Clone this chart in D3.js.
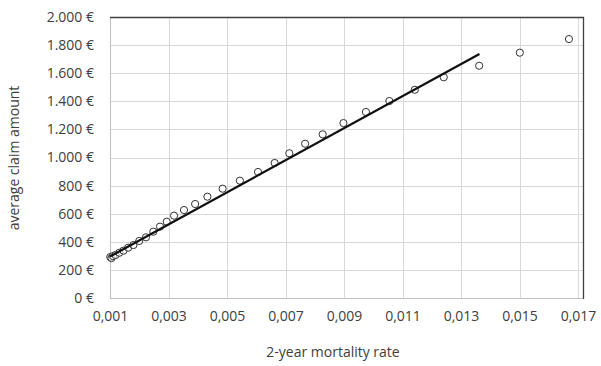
<!DOCTYPE html>
<html>
<head>
<meta charset="utf-8">
<script src="https://cdn.jsdelivr.net/npm/d3@7"></script>
<style>
  html, body { margin: 0; padding: 0; background: #fff; }
  svg { display: block; font-family: "Open Sans", sans-serif; }
</style>
</head>
<body>
<svg id="chart" width="601" height="366"></svg>
<script>
// Observed 2-year mortality rate vs. average claim amount (EUR)
const mortalityRate = [
  0.00101, 0.00105, 0.00110, 0.00119, 0.00132, 0.00146, 0.00162, 0.00180,
  0.00200, 0.00223, 0.00248, 0.00271, 0.00294, 0.00319, 0.00353, 0.00391,
  0.00433, 0.00485, 0.00544, 0.00606, 0.00663, 0.00713, 0.00767, 0.00827,
  0.00898, 0.00975, 0.01055, 0.01142, 0.01241, 0.01362, 0.01501, 0.01669
];
const claimAmount = [
  292, 284, 298, 306, 322, 337, 358, 377,
  406, 432, 472, 508, 543, 586, 626, 669,
  721, 778, 835, 897, 961, 1030, 1098, 1165,
  1245, 1324, 1402, 1482, 1571, 1653, 1746, 1843
];
// Linear trend line endpoints
const trendX = [0.0010, 0.01363];
const trendY = [295, 1737];

const xTicks = [0.001, 0.003, 0.005, 0.007, 0.009, 0.011, 0.013, 0.015, 0.017];
const yTicks = [0, 200, 400, 600, 800, 1000, 1200, 1400, 1600, 1800, 2000];

const svg = d3.select("#chart");
const plotL = 110, plotR = 583, plotT = 17, plotB = 298;
const fontSize = 14, textColor = "#404040";

const x = d3.scaleLinear().domain([0.001, 0.01717]).range([plotL, plotR]);
const y = d3.scaleLinear().domain([0, 2000]).range([plotB, plotT]);

const fmtX = d => d.toFixed(3).replace(".", ",");
const fmtY = d => d3.format(",")(d).replace(/,/g, ".") + " €";

// Gridlines
svg.append("g").selectAll("line").data(yTicks).join("line")
  .attr("x1", plotL).attr("x2", plotR)
  .attr("y1", d => Math.round(y(d)) + 0.5).attr("y2", d => Math.round(y(d)) + 0.5)
  .attr("stroke", "#d9d9d9").attr("stroke-width", 1);
svg.append("g").selectAll("line").data(xTicks).join("line")
  .attr("x1", d => Math.round(x(d)) + 0.5).attr("x2", d => Math.round(x(d)) + 0.5)
  .attr("y1", plotT).attr("y2", plotB)
  .attr("stroke", "#d9d9d9").attr("stroke-width", 1);

// Plot frame
svg.append("line").attr("x1", plotL + 0.5).attr("x2", plotL + 0.5).attr("y1", plotT).attr("y2", plotB)
  .attr("stroke", "#bfbfbf");
svg.append("line").attr("x1", plotL).attr("x2", plotR).attr("y1", plotB + 0.5).attr("y2", plotB + 0.5)
  .attr("stroke", "#bfbfbf");
svg.append("line").attr("x1", plotL).attr("x2", plotR + 1).attr("y1", plotT + 0.5).attr("y2", plotT + 0.5)
  .attr("stroke", "#404040").attr("stroke-width", 1.3);
svg.append("line").attr("x1", plotR + 0.5).attr("x2", plotR + 0.5).attr("y1", plotT).attr("y2", plotB + 1)
  .attr("stroke", "#404040").attr("stroke-width", 1.3);

// Axes (labels only)
const yAxis = svg.append("g").attr("transform", `translate(${plotL},0)`)
  .call(d3.axisLeft(y).tickValues(yTicks).tickFormat(fmtY).tickSize(0).tickPadding(16));
const xAxis = svg.append("g").attr("transform", `translate(0,${plotB})`)
  .call(d3.axisBottom(x).tickValues(xTicks).tickFormat(fmtX).tickSize(0).tickPadding(13));
[yAxis, xAxis].forEach(a => {
  a.select(".domain").remove();
  a.selectAll("text").attr("font-size", fontSize).attr("fill", textColor)
    .attr("font-family", "'Open Sans', sans-serif");
});

// Data points
svg.append("g").selectAll("circle").data(mortalityRate).join("circle")
  .attr("cx", d => x(d)).attr("cy", (d, i) => y(claimAmount[i]))
  .attr("r", 3.6).attr("fill", "#fff").attr("fill-opacity", 0.6)
  .attr("stroke", "#333").attr("stroke-width", 1);

// Trend line
svg.append("line")
  .attr("x1", x(trendX[0])).attr("y1", y(trendY[0]))
  .attr("x2", x(trendX[1])).attr("y2", y(trendY[1]))
  .attr("stroke", "#111").attr("stroke-width", 2.2);

// Axis titles
svg.append("text").attr("x", 333).attr("y", 357).attr("text-anchor", "middle")
  .attr("font-size", fontSize).attr("fill", textColor).text("2-year mortality rate");
svg.append("text").attr("transform", "translate(19,158) rotate(-90)").attr("text-anchor", "middle")
  .attr("font-size", fontSize).attr("fill", textColor).text("average claim amount");
</script>
</body>
</html>
